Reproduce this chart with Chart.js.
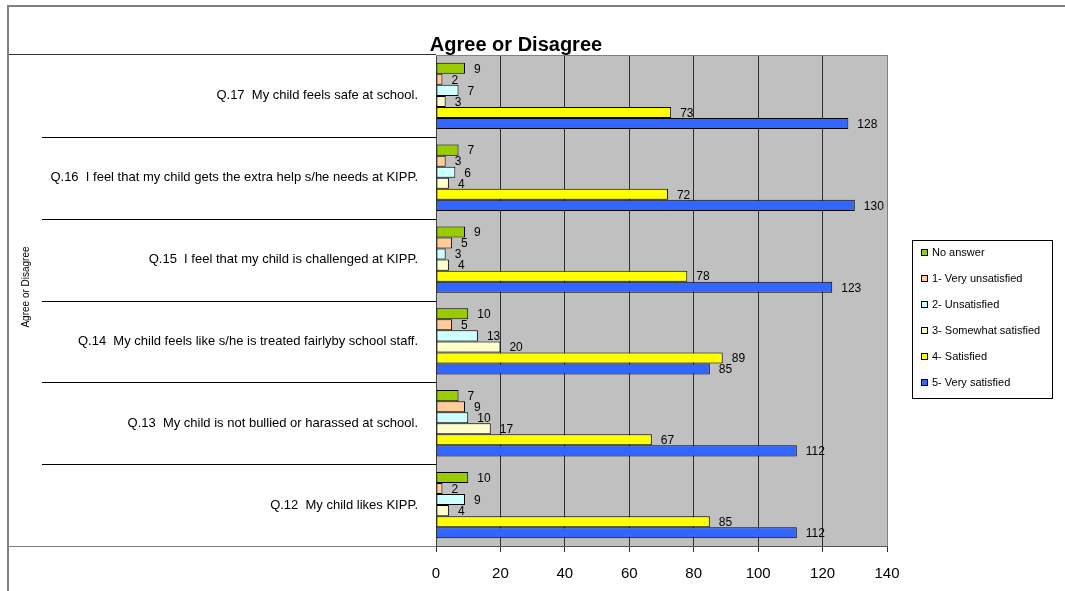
<!DOCTYPE html>
<html>
<head>
<meta charset="utf-8">
<script src="https://cdn.jsdelivr.net/npm/chart.js@4.4.1/dist/chart.umd.min.js"></script>
<style>
  body { margin: 0; background: #fff; }
  canvas { display: block; }
</style>
</head>
<body>
<canvas id="survey_chart" width="1065" height="591"></canvas>
<script>
// questions, top to bottom
var questions = [
  "Q.17  My child feels safe at school.",
  "Q.16  I feel that my child gets the extra help s/he needs at KIPP.",
  "Q.15  I feel that my child is challenged at KIPP.",
  "Q.14  My child feels like s/he is treated fairlyby school staff.",
  "Q.13  My child is not bullied or harassed at school.",
  "Q.12  My child likes KIPP."
];

var noAnswer  = [9, 7, 9, 10, 7, 10];
var veryUnsat = [2, 3, 5, 5, 9, 2];
var unsat     = [7, 6, 3, 13, 10, 9];
var somewhat  = [3, 4, 4, 20, 17, 4];
var satisfied = [73, 72, 78, 89, 67, 85];
var verySat   = [128, 130, 123, 85, 112, 112];

var seriesNames = ["No answer", "1- Very unsatisfied", "2- Unsatisfied",
                   "3- Somewhat satisfied", "4- Satisfied", "5- Very satisfied"];
var seriesColors = ["#99CC00", "#FFCC99", "#CCFFFF", "#FFFFCC", "#FFFF00", "#3366FF"];
var seriesData = [noAnswer, veryUnsat, unsat, somewhat, satisfied, verySat];

var FONT = "'Liberation Sans', Arial, sans-serif";

var datasets = seriesData.map(function (d, i) {
  return {
    label: seriesNames[i],
    data: d,
    backgroundColor: seriesColors[i],
    borderColor: "#000",
    borderWidth: 1,
    borderSkipped: false,
    categoryPercentage: 0.81,
    barPercentage: 1.0
  };
});

// extra drawing: plot background, value labels, frame, title, legend
var decor = {
  id: "decor",
  beforeDraw: function (chart) {
    var c = chart.ctx, a = chart.chartArea;
    c.save();
    c.fillStyle = "#fff";
    c.fillRect(0, 0, chart.width, chart.height);
    c.fillStyle = "#C0C0C0";
    c.fillRect(a.left, a.top, a.right - a.left, a.bottom - a.top);
    c.restore();
  },
  afterDatasetsDraw: function (chart) {
    var c = chart.ctx;
    c.save();
    c.font = "12px " + FONT;
    c.fillStyle = "#000";
    c.textBaseline = "middle";
    c.textAlign = "left";
    chart.data.datasets.forEach(function (ds, i) {
      chart.getDatasetMeta(i).data.forEach(function (bar, j) {
        c.fillText(ds.data[j], bar.x + 9, bar.y + 1);
      });
    });
    c.restore();
  },
  afterDraw: function (chart) {
    var c = chart.ctx, a = chart.chartArea;
    var y = chart.scales.y;
    c.save();
    // outer frame
    c.strokeStyle = "#808080";
    c.lineWidth = 2;
    c.beginPath();
    c.moveTo(8, chart.height); c.lineTo(8, 6); c.lineTo(chart.width, 6);
    c.stroke();
    // plot border top / right
    c.lineWidth = 1;
    c.beginPath();
    c.moveTo(a.left, a.top + 0.5); c.lineTo(a.right + 0.5, a.top + 0.5); c.lineTo(a.right + 0.5, a.bottom);
    c.stroke();
    // label box
    c.strokeStyle = "#333";
    c.beginPath();
    c.moveTo(9, a.top - 0.5); c.lineTo(a.left, a.top - 0.5);
    c.stroke();
    c.strokeStyle = "#808080";
    c.beginPath();
    c.moveTo(9, a.bottom + 0.5); c.lineTo(a.left, a.bottom + 0.5);
    c.stroke();
    // separators between questions
    c.strokeStyle = "#000";
    for (var i = 0; i < questions.length - 1; i++) {
      var sy = Math.round((y.getPixelForTick(i) + y.getPixelForTick(i + 1)) / 2) + 0.5;
      c.beginPath();
      c.moveTo(42, sy); c.lineTo(a.left, sy);
      c.stroke();
    }
    // title
    c.fillStyle = "#000";
    c.font = "bold 20px " + FONT;
    c.textAlign = "center";
    c.textBaseline = "alphabetic";
    c.fillText("Agree or Disagree", 516, 51);
    // axis title
    c.save();
    c.translate(26, 287);
    c.rotate(-Math.PI / 2);
    c.font = "10px " + FONT;
    c.textBaseline = "middle";
    c.fillText("Agree or Disagree", 0, 0);
    c.restore();
    // legend
    c.strokeStyle = "#000";
    c.lineWidth = 1;
    c.strokeRect(912.5, 240.5, 140, 158);
    c.font = "11px " + FONT;
    c.textAlign = "left";
    c.textBaseline = "middle";
    chart.data.datasets.forEach(function (ds, k) {
      var ly = 253 + k * 26;
      c.fillStyle = ds.backgroundColor;
      c.fillRect(922, ly - 3, 6, 6);
      c.strokeRect(921.5, ly - 3.5, 6, 6);
      c.fillStyle = "#000";
      c.fillText(ds.label, 932, ly);
    });
    c.restore();
  }
};

new Chart("survey_chart", {
  type: "bar",
  data: { labels: questions, datasets: datasets },
  plugins: [decor],
  options: {
    responsive: false,
    animation: false,
    indexAxis: "y",
    layout: { padding: { top: 55, right: 178, left: 0, bottom: 0 } },
    plugins: {
      legend: { display: false },
      title: { display: false },
      tooltip: { enabled: false }
    },
    scales: {
      x: {
        min: 0, max: 140,
        ticks: { stepSize: 20, color: "#000", font: { family: FONT, size: 15 }, padding: 13 },
        grid: { color: "#2e2e2e", lineWidth: 1, tickColor: "#2e2e2e", tickLength: 6 },
        border: { color: "#555" },
        afterFit: function (s) { s.height = 45; }
      },
      y: {
        ticks: { color: "#000", font: { family: FONT, size: 13 }, padding: 18 },
        grid: { display: false, drawTicks: false },
        border: { color: "#444" },
        afterFit: function (s) { s.width = 436; }
      }
    }
  }
});
</script>
</body>
</html>
